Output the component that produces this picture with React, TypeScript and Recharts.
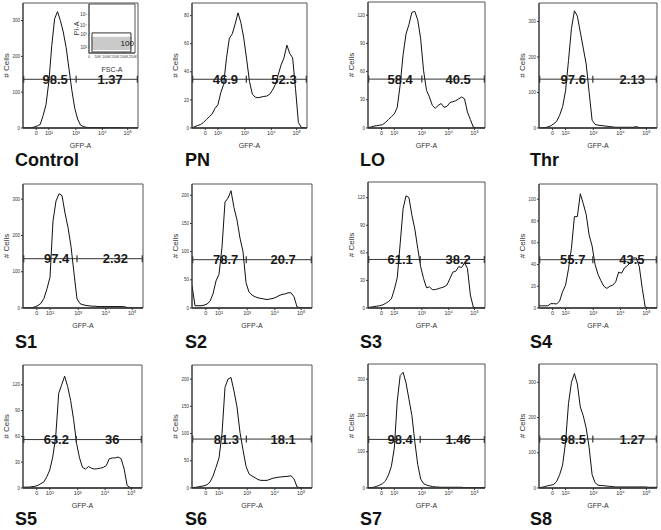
import React from "react";
import {
  LineChart,
  Line,
  XAxis,
  YAxis,
  ReferenceArea,
  ReferenceDot,
  ReferenceLine,
} from "recharts";

const FONT = "Liberation Sans, Arial, sans-serif";

// histogram bins on the logicle display axis (0..100 across the plot)
const bins = [
  0, 2.5, 5, 7.5, 10, 12.5, 15, 17.5, 20, 22.5, 25, 27.5, 30, 32.5, 35, 37.5, 40,
  42.5, 45, 47.5, 50, 52.5, 55, 57.5, 60, 62.5, 65, 67.5, 70, 72.5, 75, 77.5, 80,
  82.5, 85, 87.5, 90, 92.5, 95, 97.5, 100,
];
const xTicks = [11.5, 22.5, 46, 69, 91];
const xTickLabels = ["0", "10²", "10³", "10⁴", "10⁵"];

const panelNames = ["Control", "PN", "LO", "Thr", "S1", "S2", "S3", "S4", "S5", "S6", "S7", "S8"];

const countsControl = [0, 0, 0, 1, 3, 6, 10, 35, 65, 130, 230, 305, 325, 300, 268, 225, 165, 105, 55, 25, 8, 4, 2, 1, 1, 1, 1, 1, 1, 1, 1, 1, 1, 1, 1, 0, 0, 0, 0, 0, 0];
const countsPN = [0, 1, 1.8, 2.5, 4, 6, 8, 10, 14, 16.5, 25, 31, 50, 64, 67, 74, 82, 75, 64, 49, 33, 24, 22, 21.5, 22, 22.5, 22.7, 24, 27, 31, 38, 45, 50, 59, 53, 50, 28, 4, 0.5, 0, 0];
const countsLO = [0.5, 1, 2, 2.5, 3, 3.5, 6, 9, 12, 15, 22, 46, 78, 100, 110, 123, 124, 115, 95, 61, 40, 33, 24, 21, 24, 26, 22, 23, 27, 28, 29, 31, 33, 31, 17, 9, 1, 0, 0, 0, 0];
const countsThr = [0, 0.5, 1, 3, 6, 12, 19, 36, 60, 105, 190, 280, 330, 315, 270, 225, 180, 100, 22, 10, 8, 7, 6, 5, 4, 3, 2, 2, 2, 2, 2, 2, 2, 4, 1, 0, 0, 0, 0, 0, 0];
const countsS1 = [0, 0, 0, 1, 3, 7, 13, 27, 53, 85, 240, 295, 315, 310, 262, 222, 170, 96, 25, 12, 9, 7, 6, 5, 5, 4, 4, 4, 4, 4, 4, 4, 4, 4, 3, 1, 0, 0, 0, 0, 0];
const countsS2 = [40, 4, 4, 4, 5, 7, 12, 25, 48, 60, 108, 188, 195, 208, 178, 156, 124, 100, 45, 28, 23, 20, 18, 17, 16, 15, 16, 17, 19, 22, 24, 25, 27, 27, 20, 2, 0.5, 0, 0, 0, 0];
const countsS3 = [0.5, 1, 1.5, 2, 2.5, 3.4, 5, 7, 10, 20, 33, 70, 108, 122, 120, 101, 86, 65, 45, 32, 22, 23, 20, 20, 21, 22, 23, 25, 32, 39, 40, 45, 44, 49, 43, 14, 1, 0, 0, 0, 0];
const countsS4 = [2, 2, 2, 2, 4, 4, 3.7, 6.5, 15, 21, 36, 55, 84, 84, 105, 96, 86, 67, 57, 40, 31, 25, 20, 18, 20, 21, 24, 33, 32, 37, 39, 42, 46, 46, 38, 18, 1, 0, 0, 0, 0];
const countsS5 = [1, 1, 1, 1.5, 2, 3, 5, 7, 13, 21, 36, 60, 110, 120, 130, 118, 102, 80, 52, 35, 24, 22, 25, 23, 22, 22.5, 23, 24, 26, 34, 35, 35, 36, 34, 22, 3, 0.5, 0, 0, 0, 0];
const countsS6 = [1, 1, 2, 3, 4, 6, 11, 22, 38, 55, 100, 185, 200, 203, 178, 149, 102, 70, 40, 26, 22, 19, 15.5, 14, 14, 14, 16, 18, 19, 20, 20.5, 21, 21.5, 22.5, 17, 2, 0.5, 0, 0, 0, 0];
const countsS7 = [1, 1, 2, 4.6, 8, 12, 20, 36, 60, 110, 240, 310, 319, 290, 245, 200, 128, 65, 25, 12, 8, 6, 4, 3, 2.5, 2, 2, 2, 2, 2, 2, 2, 2, 1, 1, 1, 1, 1, 1, 1, 1];
const countsS8 = [1, 2, 4, 6.6, 8, 10, 19, 38, 65, 130, 240, 300, 325, 295, 230, 205, 170, 115, 38, 15, 8, 7, 6.6, 5.5, 4.7, 4, 3, 3, 3, 3, 3, 3, 3, 3, 3, 3, 3, 2, 2, 2, 2];

const panelCounts = [
  countsControl, countsPN, countsLO, countsThr,
  countsS1, countsS2, countsS3, countsS4,
  countsS5, countsS6, countsS7, countsS8,
];

const yMaxes = [349, 89, 134, 352, 342, 220, 137, 114, 143, 226, 342, 352];
const yTicks = [
  [0, 100, 200, 300], [0, 20, 40, 60, 80], [0, 30, 60, 90, 120], [0, 100, 200, 300],
  [0, 100, 200, 300], [0, 50, 100, 150, 200], [0, 30, 60, 90, 120], [0, 20, 40, 60, 80, 100],
  [0, 30, 60, 90, 120], [0, 50, 100, 150, 200], [0, 100, 200, 300], [0, 100, 200, 300],
];

// gate: level, split point, percentages
const gateLevels = [136, 34.7, 52, 137.5, 136, 85.7, 52.8, 44.4, 56.3, 89.9, 134, 139];
const gateSplits = [46.2, 47.2, 46, 45.6, 45, 45.2, 44.6, 45.6, 44.8, 45.3, 44.6, 45.6];
const gateLow = ["98.5", "46.9", "58.4", "97.6", "97.4", "78.7", "61.1", "55.7", "63.2", "81.3", "98.4", "98.5"];
const gateHigh = ["1.37", "52.3", "40.5", "2.13", "2.32", "20.7", "38.2", "43.5", "36", "18.1", "1.46", "1.27"];

// inset (Control): PI-A vs FSC-A
const insetXTicks = [0, 50000, 100000, 150000, 200000, 250000];
const insetXLabels = ["0", "50K", "100K", "150K", "200K", "250K"];
const insetYTicks = [12, 37, 57, 78];
const insetYLabels = ["10²", "10³", "10⁴", "10⁵"];
const insetGateX = [17000, 239000];
const insetGateY = [2, 41];
const insetCloudX = [15000, 243000];
const insetCloudY = [6, 33];
const insetPct = "100";

// layout
const boxes = [
  { x: 23, y: 3, w: 115, h: 125 },
  { x: 192, y: 3, w: 115, h: 125 },
  { x: 368, y: 2, w: 117, h: 126 },
  { x: 539, y: 3, w: 118, h: 125 },
  { x: 23, y: 184, w: 120, h: 124 },
  { x: 192, y: 184, w: 120, h: 124 },
  { x: 368, y: 182, w: 117, h: 126 },
  { x: 539, y: 184, w: 118, h: 124 },
  { x: 23, y: 365, w: 119, h: 123 },
  { x: 192, y: 365, w: 120, h: 123 },
  { x: 368, y: 364, w: 117, h: 124 },
  { x: 539, y: 364, w: 118, h: 124 },
];
const lowLabelX = [28, 29, 27.5, 29, 28, 28, 27.5, 28.6, 28, 28.6, 27.5, 29];
const highLabelX = [75.8, 80, 77, 79, 77, 76, 77, 78.7, 75, 76, 77, 79];
const nameX = [15, 185, 360, 530];
const nameY = [166, 348, 525];

const YW = 34;
const XH = 22;
const MT = 2;
const MR = 3;

const GateTick = (p: any) => (
  <line x1={p.cx} x2={p.cx} y1={p.cy - 3.5} y2={p.cy + 3.5} stroke="#333" strokeWidth={1.2} />
);

function Panel({ i }: { i: number }) {
  const box = boxes[i];
  const counts = panelCounts[i];
  const data = bins.map((x, k) => ({ x, y: counts[k] }));
  const yMax = yMaxes[i];
  const g = gateLevels[i];
  return (
    <div style={{ position: "absolute", left: box.x - YW, top: box.y - MT }}>
      <LineChart
        width={YW + box.w + MR}
        height={MT + box.h + XH}
        data={data}
        margin={{ top: MT, right: MR, bottom: 0, left: 0 }}
      >
        <XAxis
          type="number"
          dataKey="x"
          domain={[0, 100]}
          ticks={xTicks}
          interval={0}
          allowDataOverflow
          tickFormatter={(v) => xTickLabels[xTicks.indexOf(v)]}
          height={XH}
          tickSize={2}
          tickMargin={1}
          tick={{ fontSize: 5.5, fill: "#333", fontFamily: FONT }}
          axisLine={{ stroke: "#333", strokeWidth: 1.5 }}
          tickLine={{ stroke: "#333" }}
          label={{ value: "GFP-A", position: "insideBottom", offset: 2, fontSize: 7, fill: "#333", fontFamily: FONT }}
        />
        <YAxis
          type="number"
          domain={[0, yMax]}
          ticks={yTicks[i]}
          interval={0}
          allowDataOverflow
          width={YW}
          tickSize={2}
          tickMargin={1}
          tick={{ fontSize: 4.5, fill: "#333", fontFamily: FONT }}
          axisLine={{ stroke: "#333" }}
          tickLine={{ stroke: "#333" }}
          label={{ value: "# Cells", angle: -90, position: "center", fontSize: 8, fill: "#333", fontFamily: FONT }}
        />
        <ReferenceArea x1={0} x2={100} y1={0} y2={yMax} fill="none" stroke="#555" />
        <ReferenceLine segment={[{ x: 0.6, y: g }, { x: 99.4, y: g }]} stroke="#333" />
        {[0.6, gateSplits[i], 99.4].map((t) => (
          <ReferenceDot key={t} x={t} y={g} r={0} shape={GateTick} />
        ))}
        <Line
          type="linear"
          dataKey="y"
          stroke="#111"
          strokeWidth={1}
          dot={false}
          isAnimationActive={false}
        />
        <ReferenceDot
          x={lowLabelX[i]}
          y={g}
          r={0}
          label={{ value: gateLow[i], position: "center", fontSize: 13, fontWeight: "bold", fill: "#1a1a1a", fontFamily: FONT }}
        />
        <ReferenceDot
          x={highLabelX[i]}
          y={g}
          r={0}
          label={{ value: gateHigh[i], position: "center", fontSize: 13, fontWeight: "bold", fill: "#1a1a1a", fontFamily: FONT }}
        />
      </LineChart>
    </div>
  );
}

function Inset() {
  const IW = 24;
  return (
    <div style={{ position: "absolute", left: 89 - IW, top: 2 }}>
      <LineChart width={IW + 46 + 2} height={2 + 49 + 20} data={[]} margin={{ top: 2, right: 2, bottom: 0, left: 0 }}>
        <XAxis
          type="number"
          dataKey="x"
          domain={[0, 262144]}
          ticks={insetXTicks}
          interval={0}
          allowDataOverflow
          tickFormatter={(v) => insetXLabels[insetXTicks.indexOf(v)]}
          height={20}
          tickSize={1}
          tickMargin={1}
          tick={{ fontSize: 3.6, fill: "#333", fontFamily: FONT }}
          axisLine={{ stroke: "#555" }}
          label={{ value: "FSC-A", position: "insideBottom", offset: 1, fontSize: 7, fill: "#333", fontFamily: FONT }}
        />
        <YAxis
          type="number"
          domain={[0, 100]}
          ticks={insetYTicks}
          interval={0}
          allowDataOverflow
          tickFormatter={(v) => insetYLabels[insetYTicks.indexOf(v)]}
          width={IW}
          tickSize={1}
          tickMargin={1}
          tick={{ fontSize: 4.5, fill: "#333", fontFamily: FONT }}
          axisLine={{ stroke: "#555" }}
          label={{ value: "PI-A", angle: -90, position: "center", fontSize: 7, fill: "#333", fontFamily: FONT }}
        />
        <ReferenceArea x1={0} x2={262144} y1={0} y2={100} fill="#fff" fillOpacity={1} stroke="#555" />
        <ReferenceArea x1={insetCloudX[0]} x2={insetCloudX[1]} y1={insetCloudY[0]} y2={insetCloudY[1]} fill="#bdbdbd" fillOpacity={0.8} stroke="none" />
        <ReferenceArea x1={insetGateX[0]} x2={insetGateX[1]} y1={insetGateY[0]} y2={insetGateY[1]} fill="none" stroke="#333" />
        <ReferenceDot
          x={218000}
          y={20}
          r={0}
          label={{ value: insetPct, position: "center", fontSize: 8, fill: "#111", fontFamily: FONT }}
        />
      </LineChart>
    </div>
  );
}

export default function App() {
  return (
    <div style={{ position: "absolute", left: 0, top: 0, width: 661, height: 530, background: "#fff", fontFamily: FONT }}>
      {panelNames.map((n, i) => (
        <Panel key={n} i={i} />
      ))}
      <Inset />
      <svg width={661} height={530} style={{ position: "absolute", left: 0, top: 0, pointerEvents: "none" }}>
        {panelNames.map((n, i) => (
          <text
            key={n}
            x={nameX[i % 4]}
            y={nameY[Math.floor(i / 4)]}
            fontSize={18}
            fontWeight="bold"
            fontFamily={FONT}
            fill="#111"
          >
            {n}
          </text>
        ))}
      </svg>
    </div>
  );
}
